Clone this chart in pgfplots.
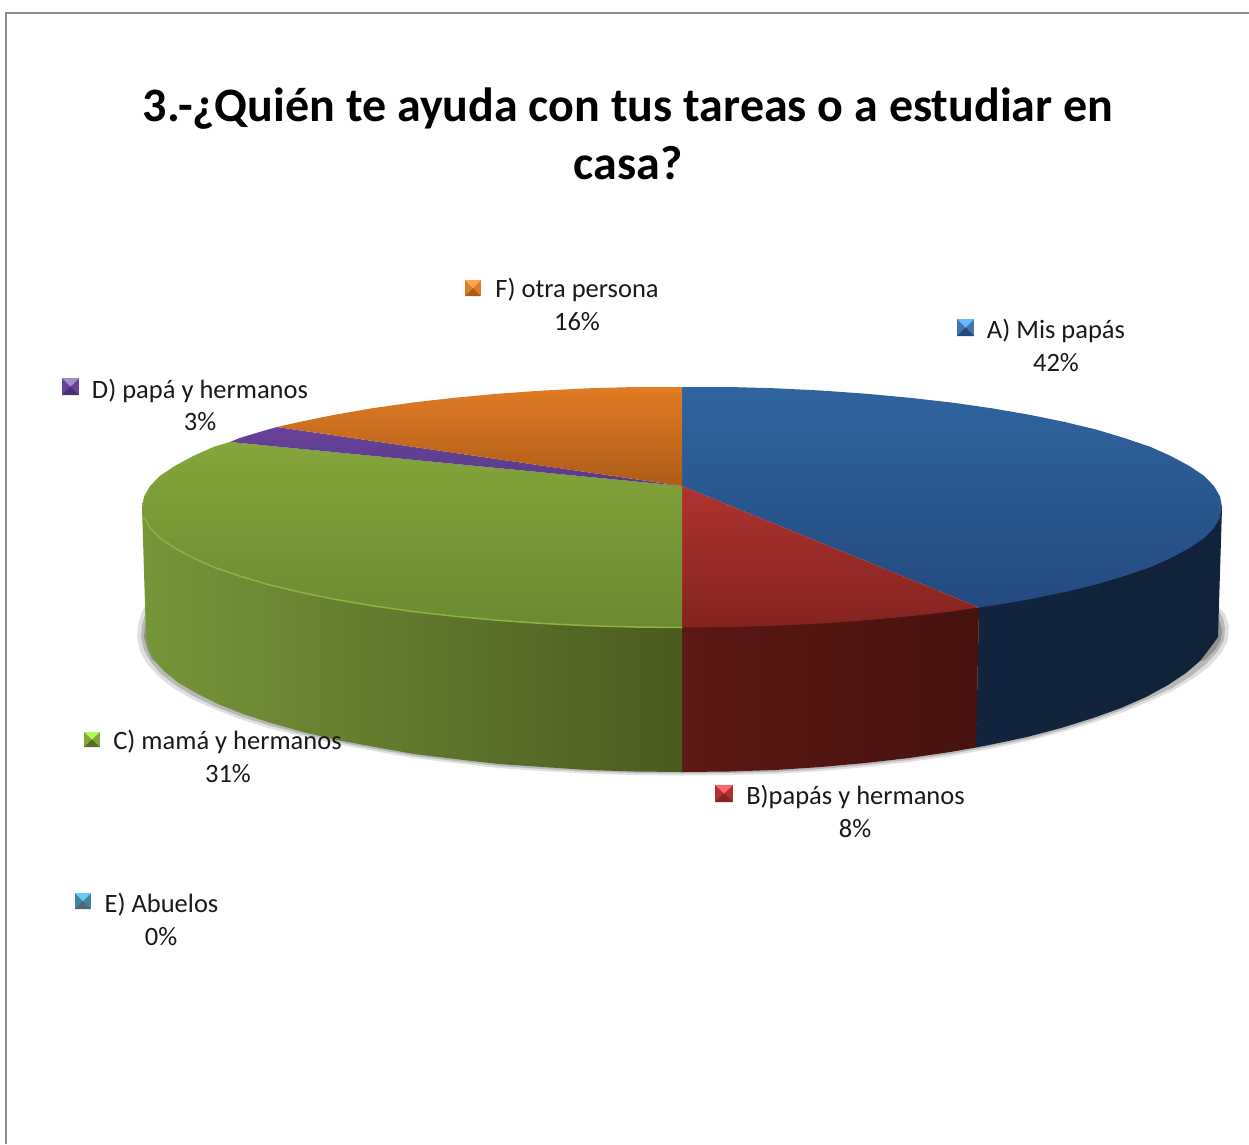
\documentclass[border=0pt]{standalone}
\usepackage{fontspec}
\setmainfont{Carlito}
\usepackage{pgfplots}
\pgfplotsset{compat=1.18}
\definecolor{frameC}{HTML}{8C8C8C}
\definecolor{blueA}{HTML}{30649F}\definecolor{blueB}{HTML}{234A80}
\definecolor{blueS}{HTML}{12243D}\definecolor{blueT}{HTML}{10233A}
\definecolor{redA}{HTML}{AE3330}\definecolor{redB}{HTML}{85231F}
\definecolor{redS}{HTML}{5C1815}\definecolor{redT}{HTML}{47120E}
\definecolor{greenA}{HTML}{84A63B}\definecolor{greenB}{HTML}{6A8A30}
\definecolor{greenS}{HTML}{769639}\definecolor{greenT}{HTML}{4A5B20}
\definecolor{greenR}{HTML}{8FB245}
\definecolor{purpA}{HTML}{66429A}\definecolor{purpB}{HTML}{5A3A88}
\definecolor{orA}{HTML}{E07C24}\definecolor{orB}{HTML}{AD5C18}
\newcommand{\key}[9]{%
  \addplot[draw=none,fill=#8] coordinates {(#1,#3)(#2,#3)(#2,#4)(#1,#4)} -- cycle;
  \addplot[draw=none,fill=#7] coordinates {(#1,#3)(#2,#3)(#5,#6)} -- cycle;
  \addplot[draw=none,fill=#9] coordinates {(#1,#4)(#2,#4)(#5,#6)} -- cycle;
}
\newcommand{\labb}[6]{%
  \node[anchor=base,inner sep=0pt,font=\fontsize{26.5}{26.5}\selectfont,text=black!90] at (axis cs:#1,#2) {#3};
  \node[anchor=base,inner sep=0pt,font=\fontsize{26.5}{26.5}\selectfont,text=black!90] at (axis cs:#4,#5) {#6};
}
\begin{document}
\begin{tikzpicture}
\useasboundingbox (0,0) rectangle (1249pt,1144pt);
\begin{axis}[at={(0,0)},anchor=south west,scale only axis,width=1249pt,height=1144pt,
  xmin=0,xmax=1249,ymin=0,ymax=1144,y dir=reverse,hide axis]
% frame
\addplot[color=frameC,line width=2pt] coordinates {(5.5,1144)(5.5,12.5)(1249,12.5)};
% soft shadow under the pie
\addplot[draw=none,fill=black,opacity=.12] coordinates {(1218,606)(1225,614)(1229,626)(1228,640)(1222,652)(1210,666)(1194,678)(1174,690)(1150,701)(1124,712)(1095,722)(1062,732)(1028,741)(990,749)(951,756)(910,762)(866,767)(822,771)(776,774)(729,775)(682,775.5)(635,775)(588,773.5)(542,771)(498,768)(454,763)(413,758)(374,751)(336,744)(301,736)(268,728)(240,719)(214,709)(192,699)(173,688)(158,676)(147,664)(140,651)(137,637)(138,624)(142,612)(146,604)} -- cycle;
\addplot[draw=none,fill=black,opacity=.18] coordinates {(1218,610)(1223,618)(1225,628)(1224,640)(1218,651)(1206,664)(1191,676)(1172,688)(1148,699)(1122,710)(1094,720)(1062,730)(1028,739)(989,747)(950,754)(909,760)(865,765)(821,769)(775,772)(729,773)(682,773.5)(635,773)(589,771.5)(543,769)(499,766)(455,761)(414,756)(375,749)(337,742)(302,734)(270,725.5)(242,717)(216,707)(194,696.5)(176,685.5)(161,674)(151,662)(144,650)(141,637)(142,625)(146,612)} -- cycle;
\addplot[draw=none,fill=black,opacity=.2] coordinates {(1215,614)(1220,622)(1222,630)(1221,640)(1215,650)(1205,660)(1195,662)} -- cycle;
\addplot[draw=none,fill=black,opacity=.2] coordinates {(148,616)(145,626)(144,637)(147,648)(152,660)(160,662)} -- cycle;
% sides
\addplot[draw=none,left color=blueS,right color=blueT] coordinates {(1222,507)(1218,637)(1210,648)(1200,661)(1186,673)(1168,685)(1146,697)(1121,708)(1093,718)(1061,728)(1027,737)(989,745)(976,747.5)(979,607.3)} -- cycle;
\addplot[draw=none,left color=redS,right color=redT] coordinates {(979,607.3)(976,747.5)(950,752)(909,758)(865,763)(821,767)(775,770)(729,771.5)(682,772)(682,627)} -- cycle;
\addplot[draw=none,left color=greenS,right color=greenT] coordinates {(682,627)(682,772)(635,771.5)(589,770)(543,767)(499,764)(455,759)(414,754)(375,747)(337,740)(303,732)(271,723)(243,714)(218,704)(196,693)(178,682.5)(164,671)(154,660)(148,648)(146,636)(142,507)(300,592)} -- cycle;
% top face
\addplot[draw=none,top color=blueA,bottom color=blueB] coordinates {(682,486)(682,387)(729,387)(776,388.3)(822,390.6)(867,393.8)(910,397.8)(952,402.6)(992,408.3)(1029,414.7)(1064,421.8)(1096,429.5)(1124,437.9)(1150,446.7)(1171,456.1)(1189,465.8)(1204,475.8)(1214,486.1)(1220,496.5)(1222,507)(1220,517.5)(1214,527.9)(1204,538.2)(1189,548.2)(1171,557.9)(1150,567.3)(1124,576.1)(1096,584.5)(1064,592.2)(1029,599.3)(992,605.7)(979,607.3)} -- cycle;
\addplot[draw=none,top color=redA,bottom color=redB] coordinates {(682,486)(979,607.3)(952,611.4)(910,616.2)(867,620.2)(822,623.4)(776,625.7)(729,627)(682,627.5)} -- cycle;
\addplot[draw=none,top color=greenA,bottom color=greenB] coordinates {(682,486)(682,627.5)(635,627)(588,625.7)(542,623.4)(497,620.2)(454,616.2)(412,611.4)(372,605.7)(335,599.3)(300,592.2)(268,584.5)(240,576.1)(214,567.3)(193,557.9)(175,548.2)(160,538.2)(150,527.9)(144,517.5)(142,507)(144,496.5)(150,486.1)(160,475.8)(175,465.8)(193,456.1)(214,446.7)(230,442)} -- cycle;
\addplot[draw=none,top color=purpA,bottom color=purpB] coordinates {(682,486)(230,442)(240,437.9)(268,429.5)(277,427)} -- cycle;
\addplot[draw=none,top color=orA,bottom color=orB] coordinates {(682,486)(277,427)(300,421.8)(335,414.7)(372,408.3)(412,402.6)(454,397.8)(497,393.8)(542,390.6)(588,388.3)(635,387)(682,387)} -- cycle;
% rim light on the green slice
\addplot[color=greenR,line width=1.5pt] coordinates {(682,627.5)(635,627)(588,625.7)(542,623.4)(497,620.2)(454,616.2)(412,611.4)(372,605.7)(335,599.3)(300,592.2)(268,584.5)(240,576.1)(214,567.3)(193,557.9)(175,548.2)(160,538.2)(150,527.9)(144,517.5)};
% legend keys
\key{957}{974}{319}{336}{965.5}{327.5}{blue!45!cyan!60!white}{blueA!90}{blueB}
\key{715}{733}{785}{802}{724}{793.5}{red!60!white}{redA}{redB}
\key{84}{100}{732}{747}{92}{739.5}{green!50!yellow!70!white}{greenA}{greenB!80!black}
\key{62}{79}{378}{395}{70.5}{386.5}{purpA!60!white}{purpA}{purpB!80!black}
\key{75}{91}{893}{909}{83}{901}{cyan!60!white}{cyan!60!black}{cyan!40!black}
\key{465}{481}{280}{296}{473}{288}{orange!70!white}{orA}{orB}
% labels
\node[anchor=base,inner sep=0pt,font=\fontsize{48}{48}\selectfont\bfseries] at (axis cs:628,121) {3.-¿Quién te ayuda con tus tareas o a estudiar en};
\node[anchor=base,inner sep=0pt,font=\fontsize{48}{48}\selectfont\bfseries] at (axis cs:628,179) {casa?};
\labb{1056}{338}{A) Mis papás}{1056}{371}{42\%}
\labb{855.5}{804}{B)papás y hermanos}{855}{837}{8\%}
\labb{227.5}{749}{C) mamá y hermanos}{228}{782}{31\%}
\labb{200}{398}{D) papá y hermanos}{200}{430}{3\%}
\labb{161.5}{912}{E) Abuelos}{161}{945}{0\%}
\labb{577}{297}{F) otra persona}{577}{330}{16\%}
\end{axis}
\end{tikzpicture}
\end{document}
